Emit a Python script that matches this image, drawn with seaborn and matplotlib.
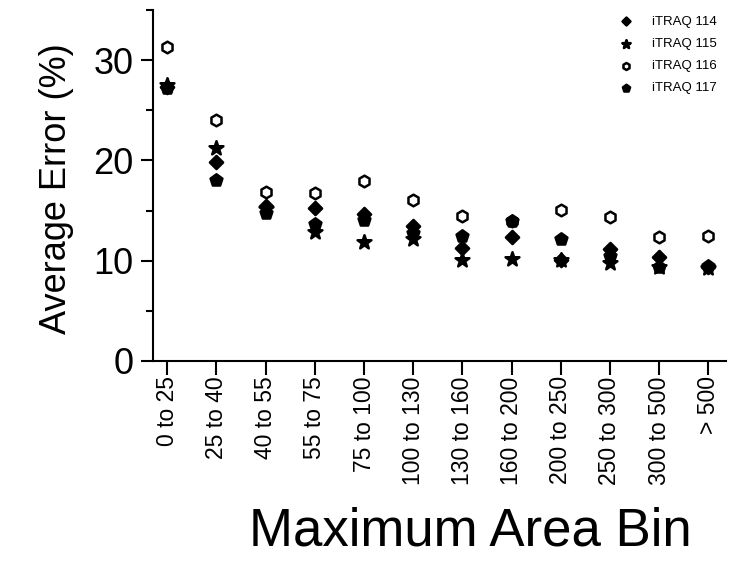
import matplotlib
matplotlib.use("Agg")
import matplotlib.pyplot as plt
import seaborn as sns
import pandas as pd
from matplotlib.ticker import MultipleLocator

categories = ["0 to 25", "25 to 40", "40 to 55", "55 to 75", "75 to 100", "100 to 130",
              "130 to 160", "160 to 200", "200 to 250", "250 to 300", "300 to 500", "> 500"]
itraq_114 = [27.3, 19.8, 15.5, 15.3, 14.7, 13.5, 11.3, 12.4, 10.1, 11.2, 10.4, 9.4]
itraq_115 = [27.5, 21.2, 15.2, 12.9, 11.9, 12.2, 10.1, 10.2, 10.1, 9.8, 9.4, 9.3]
itraq_116 = [31.3, 24.0, 16.9, 16.8, 17.9, 16.1, 14.5, 14.0, 15.1, 14.4, 12.4, 12.5]
itraq_117 = [27.2, 18.0, 14.8, 13.7, 14.1, 12.8, 12.5, 14.0, 12.2, 10.5, 9.4, 9.5]

series_names = ["iTRAQ 114", "iTRAQ 115", "iTRAQ 116", "iTRAQ 117"]
series_vals = [itraq_114, itraq_115, itraq_116, itraq_117]

rows = []
for name, vals in zip(series_names, series_vals):
    for c, v in zip(categories, vals):
        rows.append({"bin": c, "error": v, "series": name})
df = pd.DataFrame(rows)

sns.set_style("ticks")
plt.rcParams["font.family"] = ["Liberation Sans", "DejaVu Sans"]
plt.rcParams["text.color"] = "black"
plt.rcParams["axes.labelcolor"] = "black"
plt.rcParams["xtick.color"] = "black"
plt.rcParams["ytick.color"] = "black"

fig = plt.figure(figsize=(7.32, 5.62), dpi=100)
ax = fig.add_axes([153 / 732, 1 - 361 / 562, (726 - 153) / 732, (361 - 10) / 562])

styles = {
    "iTRAQ 114": dict(marker="D", s=45, facecolor="black"),
    "iTRAQ 115": dict(marker="*", s=110, facecolor="black"),
    "iTRAQ 116": dict(marker="h", s=70, facecolor="white"),
    "iTRAQ 117": dict(marker="p", s=80, facecolor="black"),
}
draw_order = ["iTRAQ 116", "iTRAQ 114", "iTRAQ 115", "iTRAQ 117"]
handles = {}
for name in draw_order:
    st = styles[name]
    sub = df[df["series"] == name]
    sns.scatterplot(data=sub, x="bin", y="error", ax=ax, marker=st["marker"], s=st["s"],
                    color="black", facecolor=st["facecolor"], edgecolor="black",
                    linewidth=1.8, legend=False, label=name, zorder=3)
    handles[name] = ax.collections[-1]

leg = ax.legend([handles[n] for n in series_names], series_names, loc="upper right",
                frameon=False, fontsize=9.5, markerscale=0.6, handletextpad=1.0,
                labelspacing=0.75, bbox_to_anchor=(1.0, 1.01), borderaxespad=0.3)
for t in leg.get_texts():
    t.set_color("black")

ax.set_xlim(-0.29, 11.36)
ax.set_ylim(0, 35)
ax.yaxis.set_major_locator(MultipleLocator(10))
ax.yaxis.set_minor_locator(MultipleLocator(5))
ax.set_xticks(range(len(categories)))
ax.set_xticklabels(categories, rotation=90, fontsize=16.5)
ax.tick_params(axis="y", which="major", labelsize=26, length=9, width=1.5, pad=5)
ax.tick_params(axis="y", which="minor", length=5, width=1.5)
ax.tick_params(axis="x", which="major", length=10, width=1.5, pad=1)
for sp in ["left", "bottom"]:
    ax.spines[sp].set_linewidth(1.5)
    ax.spines[sp].set_color("black")
sns.despine(ax=ax)

ax.set_xlabel("Maximum Area Bin", fontsize=38)
ax.set_ylabel("Average Error (%)", fontsize=26)
ax.xaxis.set_label_coords(0.553, -0.485)
ax.xaxis.label.set_va("center")
ax.yaxis.set_label_coords(-0.168, 0.49)
ax.yaxis.label.set_va("center")

fig.savefig("out.png", dpi=100)
